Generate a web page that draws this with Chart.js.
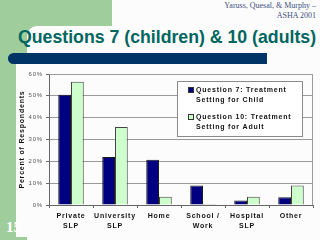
<!DOCTYPE html>
<html>
<head>
<meta charset="utf-8">
<script src="https://cdn.jsdelivr.net/npm/chart.js@4.4.1/dist/chart.umd.min.js"></script>
<style>
    html, body { margin: 0; padding: 0; }
    body { width: 320px; height: 240px; background: #fcfcfc; position: relative; overflow: hidden; font-family: "Liberation Sans", Arial, sans-serif; }
    .green { position: absolute; background: #9fcd9b; }
    .sheet { position: absolute; left: 27px; top: 26px; width: 293px; height: 214px; background: #fcfcfc; border-top-left-radius: 10px; }
    .bar { position: absolute; left: 8px; top: 53px; width: 259px; height: 11px; background: #003366; border-radius: 5.5px 0 0 5.5px; }
    .cite { position: absolute; right: 4px; top: 1px; font: 8px/9.5px "Liberation Serif", "Times New Roman", serif; color: #3d4f7c; text-align: right; }
    .title { position: absolute; left: 18px; top: 28px; font: bold 18.6px/18px "Liberation Sans", Arial, sans-serif; color: #00665f; white-space: nowrap; transform-origin: 0 0; }
    .slide { position: absolute; left: 6px; top: 220px; font: bold 15px/15px "Liberation Serif", serif; color: #ffffff; }
    #wrap { position: absolute; left: 0; top: 0; width: 320px; height: 240px; }
</style>
</head>
<body>
<div class="green" style="left:0;top:0;width:112px;height:60px"></div>
<div class="sheet"></div>
<div class="green" style="left:0;top:0;width:16px;height:240px"></div>
<div class="green" style="left:0;top:237px;width:27px;height:3px"></div>
<div class="slide">15</div>
<div class="bar"></div>
<div class="cite">Yaruss, Quesal, &amp; Murphy –<br>ASHA 2001</div>
<div class="title" id="title">Questions 7 (children) &amp; 10 (adults)</div>
<div id="wrap"><canvas id="chart" width="320" height="240"></canvas></div>

<script>
const categories = [['Private', 'SLP'], ['University', 'SLP'], ['Home'], ['School /', 'Work'], ['Hospital', 'SLP'], ['Other']];
const childValues = [50.5, 22, 20.7, 8.9, 2.1, 3.5];
const adultValues = [56.4, 35.7, 3.8, 0.5, 3.8, 8.9];
const seriesLabels = [['Question 7: Treatment', 'Setting for Child'], ['Question 10: Treatment', 'Setting for Adult']];
const yTicks = [0, 10, 20, 30, 40, 50, 60];

const spacing = '0.8px';

// squeeze the title so it spans the same width as the slide heading
const title = document.getElementById('title');
title.style.transform = 'scaleX(' + (298 / title.offsetWidth) + ')';

// letter spacing for all canvas text (measuring and drawing)
const spacingPlugin = {
    id: 'spacing',
    beforeUpdate(chart) { chart.ctx.letterSpacing = spacing; },
    beforeDraw(chart) { chart.ctx.letterSpacing = spacing; }
};

// grey frame round the plot area
const framePlugin = {
    id: 'frame',
    beforeDatasetsDraw(chart) {
        const { ctx, chartArea: a } = chart;
        ctx.save();
        ctx.strokeStyle = '#9a9a9a';
        ctx.lineWidth = 1;
        ctx.beginPath();
        ctx.moveTo(a.left, a.top + 0.5);
        ctx.lineTo(a.right - 0.5, a.top + 0.5);
        ctx.lineTo(a.right - 0.5, a.bottom);
        ctx.stroke();
        ctx.restore();
    }
};

// boxed legend inside the plot, two lines per entry
const legendPlugin = {
    id: 'boxLegend',
    afterDraw(chart) {
        const ctx = chart.ctx;
        const x = 177.5, y = 81.5, w = 125, h = 55;
        ctx.save();
        ctx.letterSpacing = spacing;
        ctx.fillStyle = '#ffffff';
        ctx.fillRect(x, y, w, h);
        ctx.strokeStyle = '#8a8a8a';
        ctx.lineWidth = 1;
        ctx.strokeRect(x, y, w, h);
        ctx.font = 'bold 7px "Liberation Sans", Arial, sans-serif';
        ctx.textBaseline = 'middle';
        chart.data.datasets.forEach((ds, i) => {
            const top = 90 + i * 27;
            ctx.fillStyle = ds.backgroundColor;
            ctx.fillRect(188.5, top - 2.5, 5, 5);
            ctx.strokeStyle = '#333';
            ctx.strokeRect(188.5, top - 2.5, 5, 5);
            ctx.fillStyle = '#111';
            ds.label.forEach((line, j) => {
                ctx.fillText(line, 196, top + j * 10.3);
            });
        });
        ctx.restore();
    }
};

const chart = new Chart(document.getElementById('chart'), {
    type: 'bar',
    data: {
        labels: categories,
        datasets: [{
            label: seriesLabels[0],
            data: childValues,
            backgroundColor: '#000080',
            borderColor: '#1a1a1a',
            borderWidth: 1
        }, {
            label: seriesLabels[1],
            data: adultValues,
            backgroundColor: '#ccffcc',
            borderColor: '#444',
            borderWidth: 1
        }]
    },
    options: {
        responsive: false,
        animation: false,
        events: [],
        layout: { padding: { top: 74, right: 7, left: 0, bottom: 0 } },
        datasets: {
            bar: { categoryPercentage: 0.58, barPercentage: 1 }
        },
        plugins: {
            legend: { display: false },
            tooltip: { enabled: false }
        },
        scales: {
            x: {
                afterFit(scale) { scale.height = 35; },
                grid: {
                    display: true,
                    offset: true,
                    drawOnChartArea: false,
                    tickLength: 3,
                    color: '#666'
                },
                border: { color: '#666', width: 1 },
                ticks: {
                    padding: 3,
                    maxRotation: 0,
                    autoSkip: false,
                    color: '#111',
                    font: { family: '"Liberation Sans", Arial, sans-serif', size: 7, weight: 'bold', lineHeight: 1.45 }
                }
            },
            y: {
                min: 0,
                max: 60,
                afterFit(scale) { scale.width = 49; },
                afterBuildTicks(scale) { scale.ticks = yTicks.map(v => ({ value: v })); },
                grid: {
                    color: '#9a9a9a',
                    tickLength: 3,
                    drawTicks: true,
                    tickColor: '#666'
                },
                border: { color: '#666', width: 1 },
                ticks: {
                    padding: 3,
                    color: '#555',
                    font: { family: '"Liberation Sans", Arial, sans-serif', size: 6 },
                    callback: v => v + '%'
                },
                title: {
                    display: true,
                    text: 'Percent of Respondents',
                    color: '#111',
                    font: { family: '"Liberation Sans", Arial, sans-serif', size: 7, weight: 'bold' },
                    padding: { top: 18, bottom: 0 }
                }
            }
        }
    },
    plugins: [spacingPlugin, framePlugin, legendPlugin]
});
</script>
</body>
</html>
